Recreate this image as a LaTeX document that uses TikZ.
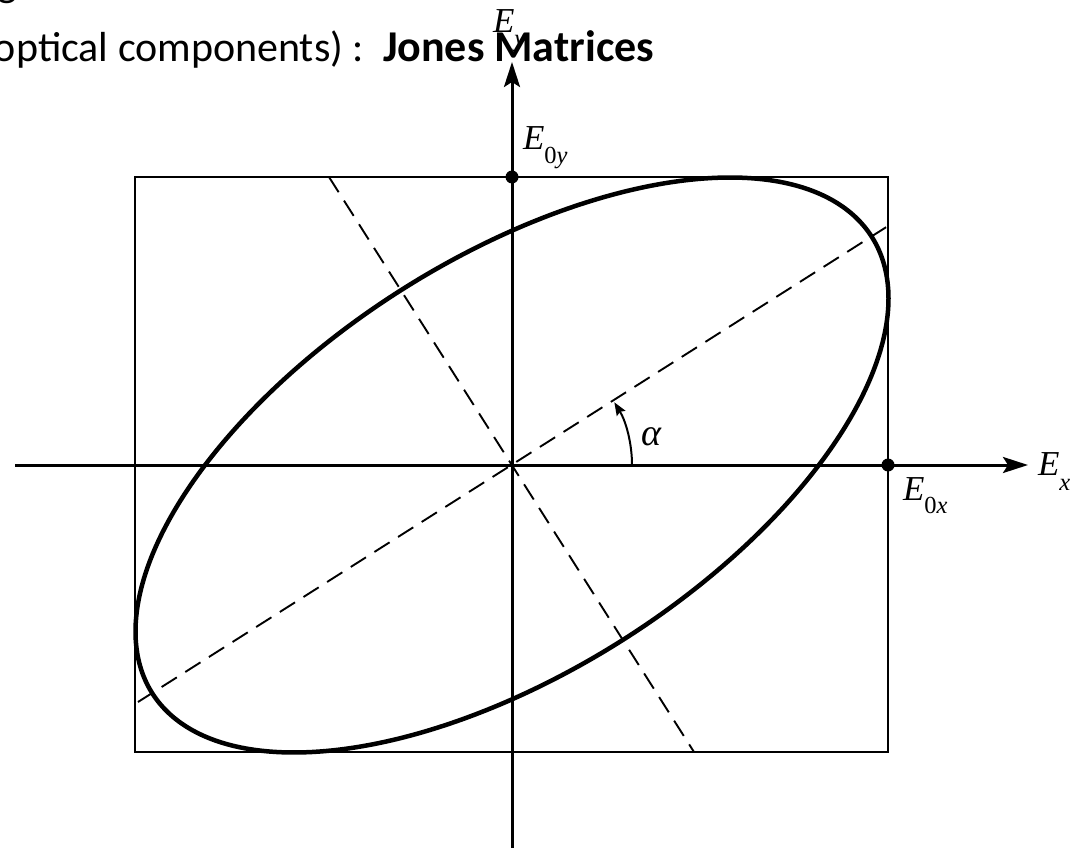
\documentclass[tikz,border=0pt]{standalone}
\usepackage{fontspec}
\setmainfont{Carlito}
\newfontfamily\labfont{Liberation Serif}
\usetikzlibrary{arrows.meta}
\newcommand\Elab[2]{{\labfont\fontsize{35}{40}\selectfont\itshape E\raisebox{-#2pt}{\fontsize{24.5}{28}\selectfont #1}}}
\tikzset{
  every node/.style={inner sep=0pt, outer sep=0pt},
  axisline/.style={line width=3pt, -{Stealth[length=25pt,width=16pt,inset=5pt]}},
  boxline/.style={line width=1.8pt},
  dashline/.style={line width=1.9pt, dash pattern=on 18pt off 10pt},
  ellline/.style={line width=4.5pt},
  dotnode/.style={circle, fill=black, minimum size=13pt},
  anglearrow/.style={line width=2pt, -{Stealth[length=13pt,width=10pt,inset=2pt]}},
  titletext/.style={font=\fontsize{42}{50}\selectfont, anchor=base west},
}
\begin{document}
\begin{tikzpicture}[x=1pt,y=-1pt]
\useasboundingbox (0,0) rectangle (1088,848);
% coordinates
\coordinate (O) at (512,465);
\coordinate (XL) at (15,465);
\coordinate (XR) at (1028,465);
\coordinate (YB) at (512,870);
\coordinate (YT) at (512,62);
\coordinate (R1) at (135,177);
\coordinate (R2) at (888,752);
\coordinate (MA1) at (138,702);
\coordinate (MA2) at (888,226);
\coordinate (MI1) at (329,177);
\coordinate (MI2) at (694,752);
\coordinate (A0) at (632,465);
% dashed axes of the ellipse
\draw[dashline] (MA1) -- (MA2);
\draw[dashline] (MI1) -- (MI2);
% bounding rectangle
\draw[boxline] (R1) rectangle (R2);
% ellipse
\draw[ellline] plot[domain=0:358, samples=180, smooth cycle]
  ({512+376.5*cos(\x)},{465-287.5*cos(\x-54.6)});
% axes
\draw[axisline] (XL) -- (XR);
\draw[axisline] (YB) -- (YT);
% angle arrow
\draw[anglearrow] (A0) arc[start angle=0, end angle=-31.5, radius=120];
% dots
\node[dotnode] (D1) at (512,177) {};
\node[dotnode] (D2) at (888,465) {};
% labels
\node[anchor=base west] (Ey) at (493,33) {\Elab{y}{14}};
\node[anchor=base west] (E0y) at (523,150) {\Elab{\upshape 0\itshape y}{14}};
\node[anchor=base west] (E0x) at (903,500) {\Elab{\upshape 0\itshape x}{13}};
\node[anchor=base west] (Ex) at (1038,475) {\Elab{x}{15}};
\node[anchor=base west] (al) at (641,445) {\labfont\itshape\fontsize{38}{40}\selectfont α};
% title text
\node[titletext] (prev) at (-2,-3) {g};
\node[titletext] (title) at (-6,62) {optical components) :\ \ {\fontsize{44}{50}\selectfont\bfseries Jones Matrices}};
\end{tikzpicture}
\end{document}
